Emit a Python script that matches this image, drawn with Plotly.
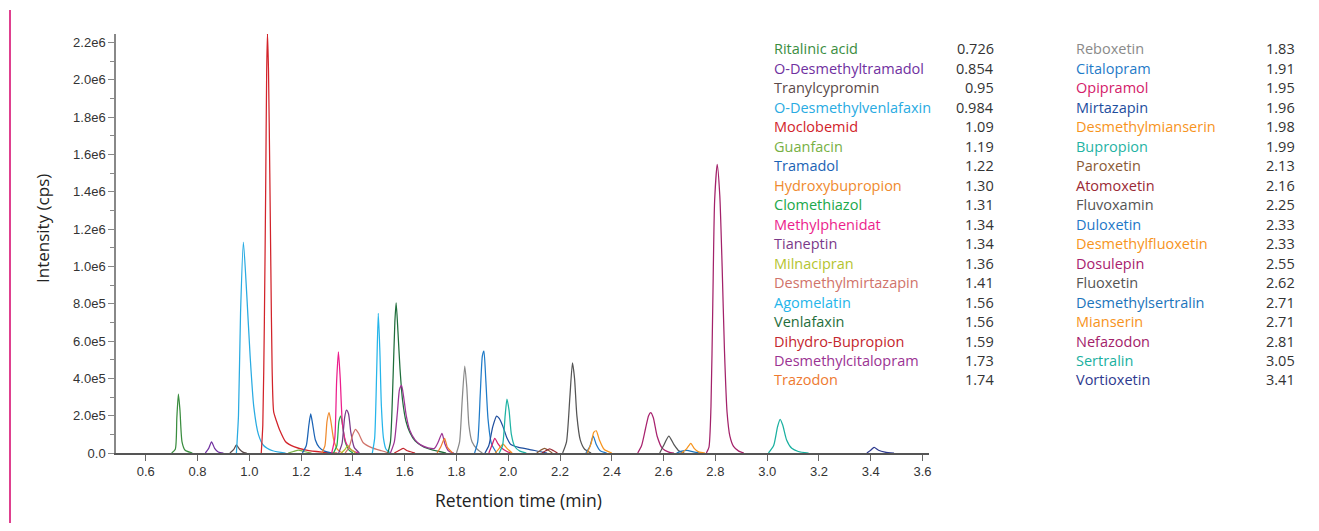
import plotly.graph_objects as go

# compound names, legend retention times and colours (legend order)
compounds = [
    "Ritalinic acid", "O-Desmethyltramadol", "Tranylcypromin", "O-Desmethylvenlafaxin",
    "Moclobemid", "Guanfacin", "Tramadol", "Hydroxybupropion", "Clomethiazol",
    "Methylphenidat", "Tianeptin", "Milnacipran", "Desmethylmirtazapin", "Agomelatin",
    "Venlafaxin", "Dihydro-Bupropion", "Desmethylcitalopram", "Trazodon",
    "Reboxetin", "Citalopram", "Opipramol", "Mirtazapin", "Desmethylmianserin",
    "Bupropion", "Paroxetin", "Atomoxetin", "Fluvoxamin", "Duloxetin",
    "Desmethylfluoxetin", "Dosulepin", "Fluoxetin", "Desmethylsertralin", "Mianserin",
    "Nefazodon", "Sertralin", "Vortioxetin",
]
retention = [
    "0.726", "0.854", "0.95", "0.984", "1.09", "1.19", "1.22", "1.30", "1.31",
    "1.34", "1.34", "1.36", "1.41", "1.56", "1.56", "1.59", "1.73", "1.74",
    "1.83", "1.91", "1.95", "1.96", "1.98", "1.99", "2.13", "2.16", "2.25",
    "2.33", "2.33", "2.55", "2.62", "2.71", "2.71", "2.81", "3.05", "3.41",
]
colors = [
    "#3a8d3f", "#7030a0", "#5b4a4a", "#29abe2", "#d2232a", "#77b043", "#1b63b5",
    "#ef8a2e", "#20a84a", "#ec1e8c", "#7b3a8a", "#b5c430", "#d0736a", "#25b5ea",
    "#1f6e3c", "#c4262e", "#9b3393", "#ee7a30",
    "#8a8a8a", "#1f7bc8", "#d4206a", "#1e4e9e", "#f7941d", "#1fb3a4", "#8a5a35",
    "#9b2a35", "#555555", "#1f78c8", "#f7941d", "#a8226e", "#555555", "#1c75bc",
    "#f7941d", "#a3226a", "#1ab0a0", "#2e3a8f",
]

# chromatogram points (min, cps), one row per compound
times = [
    [0.700, 0.714, 0.720, 0.726, 0.732, 0.740, 0.752, 0.780],
    [0.830, 0.843, 0.854, 0.866, 0.880, 0.900],
    [0.925, 0.940, 0.950, 0.962, 0.975, 0.990],
    [0.950, 0.958, 0.966, 0.977, 0.990, 1.003, 1.017, 1.035, 1.055, 1.090, 1.140],
    [1.046, 1.052, 1.058, 1.063, 1.067, 1.070, 1.074, 1.079, 1.083, 1.088, 1.094, 1.105,
     1.118, 1.140, 1.172, 1.220, 1.280, 1.340],
    [1.150, 1.170, 1.190, 1.210, 1.240],
    [1.205, 1.220, 1.230, 1.237, 1.245, 1.255, 1.270, 1.290, 1.320],
    [1.280, 1.292, 1.300, 1.308, 1.316, 1.326, 1.340, 1.360],
    [1.325, 1.338, 1.346, 1.353, 1.360, 1.370, 1.385, 1.400],
    [1.318, 1.330, 1.337, 1.344, 1.351, 1.360, 1.375, 1.395, 1.420],
    [1.345, 1.358, 1.368, 1.375, 1.383, 1.392, 1.405, 1.425],
    [1.355, 1.370, 1.380, 1.392, 1.410],
    [1.370, 1.385, 1.400, 1.410, 1.422, 1.440, 1.470, 1.510, 1.540],
    [1.475, 1.484, 1.492, 1.498, 1.504, 1.510, 1.518, 1.528, 1.545],
    [1.535, 1.545, 1.555, 1.562, 1.567, 1.574, 1.582, 1.592, 1.605, 1.620, 1.640, 1.670,
     1.710, 1.760],
    [1.560, 1.580, 1.595, 1.610, 1.640],
    [1.545, 1.560, 1.572, 1.580, 1.588, 1.596, 1.606, 1.620, 1.640, 1.660, 1.690, 1.715,
     1.730, 1.744, 1.755, 1.770, 1.790],
    [1.725, 1.740, 1.754, 1.765, 1.785],
    [1.800, 1.812, 1.822, 1.832, 1.840, 1.848, 1.860, 1.880, 1.900],
    [1.870, 1.882, 1.892, 1.900, 1.906, 1.913, 1.922, 1.935, 1.955],
    [1.925, 1.938, 1.948, 1.960, 1.975, 1.995, 2.010],
    [1.910, 1.925, 1.940, 1.955, 1.965, 1.980, 1.995, 2.010, 2.040, 2.080, 2.120, 2.150],
    [1.950, 1.965, 1.980, 1.995, 2.015],
    [1.965, 1.978, 1.988, 1.995, 2.003, 2.012, 2.025, 2.045, 2.070],
    [2.110, 2.125, 2.140, 2.155, 2.170],
    [2.130, 2.145, 2.160, 2.175, 2.190],
    [2.210, 2.225, 2.238, 2.248, 2.256, 2.265, 2.278, 2.295, 2.320],
    [2.300, 2.315, 2.328, 2.340, 2.355, 2.380],
    [2.305, 2.320, 2.330, 2.340, 2.352, 2.370, 2.400],
    [2.500, 2.515, 2.530, 2.542, 2.550, 2.560, 2.575, 2.595, 2.620, 2.640],
    [2.585, 2.600, 2.620, 2.640, 2.660, 2.680],
    [2.650, 2.670, 2.690, 2.715, 2.740],
    [2.670, 2.690, 2.705, 2.718, 2.735, 2.760],
    [2.765, 2.775, 2.783, 2.790, 2.797, 2.807, 2.817, 2.826, 2.835, 2.845, 2.856, 2.870,
     2.890, 2.910],
    [3.005, 3.025, 3.040, 3.050, 3.060, 3.075, 3.095, 3.120, 3.160],
    [3.385, 3.400, 3.413, 3.430, 3.455, 3.490],
]
intensity = [
    [0, 20e3, 190e3, 315e3, 230e3, 60e3, 15e3, 0],
    [0, 25e3, 60e3, 25e3, 5e3, 0],
    [0, 20e3, 43e3, 20e3, 5e3, 0],
    [0, 200e3, 750e3, 1130e3, 850e3, 520e3, 250e3, 100e3, 40e3, 12e3, 0],
    [0, 150e3, 700e3, 1400e3, 2050e3, 2250e3, 2050e3, 1500e3, 1000e3, 450e3, 220e3, 170e3,
     120e3, 60e3, 34e3, 15e3, 5e3, 0],
    [0, 8e3, 16e3, 8e3, 0],
    [0, 40e3, 150e3, 209e3, 150e3, 70e3, 30e3, 10e3, 0],
    [0, 40e3, 170e3, 216e3, 160e3, 70e3, 20e3, 0],
    [0, 40e3, 170e3, 198e3, 150e3, 60e3, 15e3, 0],
    [0, 80e3, 380e3, 542e3, 400e3, 150e3, 50e3, 15e3, 0],
    [0, 50e3, 190e3, 230e3, 210e3, 110e3, 30e3, 0],
    [0, 20e3, 40e3, 20e3, 0],
    [0, 30e3, 100e3, 127e3, 105e3, 55e3, 30e3, 12e3, 0],
    [0, 80e3, 450e3, 748e3, 550e3, 250e3, 80e3, 20e3, 0],
    [0, 60e3, 400e3, 700e3, 805e3, 650e3, 450e3, 280e3, 170e3, 110e3, 65e3, 35e3, 15e3, 0],
    [0, 15e3, 25e3, 12e3, 0],
    [0, 60e3, 220e3, 340e3, 362e3, 300e3, 200e3, 120e3, 70e3, 45e3, 28e3, 25e3, 60e3,
     105e3, 50e3, 10e3, 0],
    [0, 35e3, 79e3, 30e3, 0],
    [0, 60e3, 280e3, 466e3, 350e3, 150e3, 60e3, 20e3, 0],
    [0, 60e3, 320e3, 520e3, 546e3, 400e3, 180e3, 50e3, 0],
    [0, 45e3, 79e3, 50e3, 25e3, 8e3, 0],
    [0, 40e3, 140e3, 198e3, 185e3, 140e3, 80e3, 45e3, 30e3, 20e3, 8e3, 0],
    [0, 25e3, 48e3, 25e3, 0],
    [0, 40e3, 200e3, 289e3, 230e3, 100e3, 35e3, 10e3, 0],
    [0, 15e3, 25e3, 15e3, 0],
    [0, 12e3, 22e3, 12e3, 0],
    [0, 60e3, 300e3, 483e3, 400e3, 200e3, 70e3, 20e3, 0],
    [0, 35e3, 91e3, 45e3, 12e3, 0],
    [0, 50e3, 110e3, 119e3, 70e3, 20e3, 0],
    [0, 40e3, 130e3, 200e3, 216e3, 190e3, 90e3, 25e3, 5e3, 0],
    [0, 40e3, 91e3, 45e3, 10e3, 0],
    [0, 10e3, 14e3, 6e3, 0],
    [0, 25e3, 52e3, 25e3, 6e3, 0],
    [0, 30e3, 250e3, 800e3, 1350e3, 1547e3, 1380e3, 1000e3, 550e3, 220e3, 90e3, 35e3,
     10e3, 0],
    [0, 40e3, 140e3, 180e3, 150e3, 70e3, 25e3, 8e3, 0],
    [0, 15e3, 30e3, 15e3, 5e3, 0],
]

x_ticks = [0.6, 0.8, 1.0, 1.2, 1.4, 1.6, 1.8, 2.0, 2.2, 2.4, 2.6, 2.8, 3.0, 3.2, 3.4, 3.6]
y_ticks = [0, 2e5, 4e5, 6e5, 8e5, 1e6, 1.2e6, 1.4e6, 1.6e6, 1.8e6, 2.0e6, 2.2e6]
y_labels = ["0.0", "2.0e5", "4.0e5", "6.0e5", "8.0e5", "1.0e6", "1.2e6", "1.4e6",
            "1.6e6", "1.8e6", "2.0e6", "2.2e6"]

fig = go.Figure()
for name, t, inten, c in zip(compounds, times, intensity, colors):
    fig.add_trace(go.Scatter(x=t, y=inten, mode="lines", name=name,
                             line=dict(color=c, width=1.25, shape="spline", smoothing=0.6)))

label_font = "Open Sans, Lato, sans-serif"
tick_font = dict(family="Liberation Sans, Arial, sans-serif", size=13, color="#333333")

# the page body has an 8px margin, so figure pixels = page pixels - 8
OFF = 8
FW, FH = 1319 - 2 * OFF, 531 - 2 * OFF
W, H = 813, 419
L, T = 116 - OFF, 34 - OFF


def px(page_x):
    return (page_x - OFF - L) / W


def py(page_y):
    return (T + H - (page_y - OFF)) / H


# two-column legend with retention times
row_px = [49 + 19.47 * i for i in range(18)]
for idx, (name, rt, c) in enumerate(zip(compounds, retention, colors)):
    col = idx // 18
    yp = py(row_px[idx % 18])
    name_x = 772 if col == 0 else 1074
    val_x = 996 if col == 0 else 1297
    fig.add_annotation(x=px(name_x), y=yp, xref="paper", yref="paper", text=name,
                       showarrow=False, xanchor="left", yanchor="middle",
                       font=dict(family=label_font, size=14.5, color=c))
    fig.add_annotation(x=px(val_x), y=yp, xref="paper", yref="paper", text=rt,
                       showarrow=False, xanchor="right", yanchor="middle",
                       font=dict(family=label_font, size=14.5, color="#333333"))

fig.add_annotation(x=px(42), y=py(229), xref="paper", yref="paper",
                   text="Intensity (cps)", textangle=-90, showarrow=False,
                   xanchor="center", yanchor="middle",
                   font=dict(family=label_font, size=17, color="#222222"))
fig.add_annotation(x=px(518), y=py(500), xref="paper", yref="paper",
                   text="Retention time (min)", showarrow=False,
                   xanchor="center", yanchor="middle",
                   font=dict(family=label_font, size=17.5, color="#222222"))

# pink page rule on the left
fig.add_shape(type="line", xref="paper", yref="paper",
              x0=px(10), x1=px(10), y0=py(10), y1=py(540),
              line=dict(color="#d4006a", width=1.5))

fig.update_layout(
    width=FW, height=FH,
    margin=dict(l=L, r=FW - L - W, t=T, b=FH - T - H),
    plot_bgcolor="white", paper_bgcolor="white",
    showlegend=False,
    xaxis=dict(range=[0.485, 3.625], tickvals=x_ticks, ticktext=[f"{v:.1f}" for v in x_ticks],
               ticks="outside", ticklen=6, tickcolor="#666666", showgrid=False, zeroline=False,
               showline=True, linecolor="#555555", linewidth=1.5, tickfont=tick_font),
    yaxis=dict(range=[0, 2.245e6], tickvals=y_ticks, ticktext=y_labels,
               ticks="outside", ticklen=6, tickcolor="#888888", showgrid=False, zeroline=False,
               showline=True, linecolor="#888888", linewidth=1.5, tickfont=tick_font,
               minor=dict(dtick=1e5, ticks="outside", ticklen=4, tickcolor="#888888")),
)

fig.write_html("out.html")
